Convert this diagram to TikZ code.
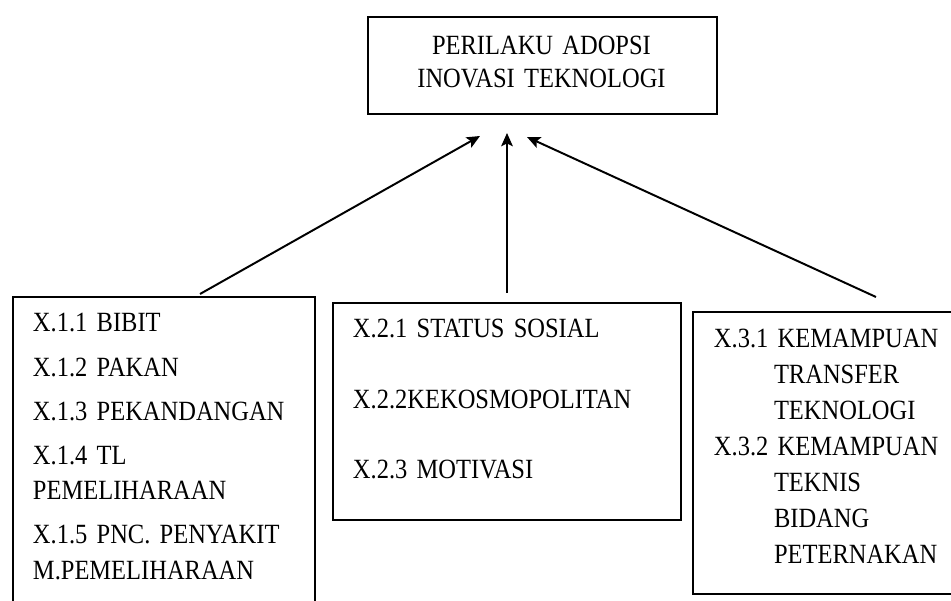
\documentclass[tikz,border=0pt]{standalone}
\usepackage{fontspec}
\setmainfont[FakeStretch=0.88,WordSpace=0.85]{Liberation Serif}
\usetikzlibrary{arrows.meta}

\begin{document}
\begin{tikzpicture}[>={Stealth[length=3.3mm,width=2.9mm,inset=0.7mm]},line width=1.4pt,
  kotak/.style={draw,rectangle,inner sep=0pt,anchor=north west},
  isi/.style={anchor=base west,inner sep=0pt,align=left,text width=#1,
    font=\fontsize{19.8}{25.6}\selectfont},
  isi/.default=6.5cm]
\useasboundingbox (0,0) rectangle (23.775,15);
\node[kotak,minimum width=8.725cm,minimum height=2.425cm] (puncak) at (9.175,14.6) {};
\node[isi=8cm,align=center,anchor=base] (judul) at (13.5375,13.625)
  {PERILAKU ADOPSI\\[-2.8pt]INOVASI TEKNOLOGI};
\node[kotak,minimum width=7.55cm,minimum height=7.8cm] (faktorA) at (0.3,7.6) {};
\node[isi] (isiA) at (0.8,6.7)
  {X.1.1 BIBIT\\[5.7pt]
   X.1.2 PAKAN\\[5.7pt]
   X.1.3 PEKANDANGAN\\[5.7pt]
   X.1.4 TL\\
   PEMELIHARAAN\\[5.7pt]
   X.1.5 PNC. PENYAKIT\\
   M.PEMELIHARAAN};
\node[kotak,minimum width=8.7cm,minimum height=5.425cm] (faktorB) at (8.3,7.45) {};
\node[isi=7.8cm] (isiB) at (8.8,6.55)
  {X.2.1 STATUS SOSIAL\\[24.2pt]
   X.2.2KEKOSMOPOLITAN\\[24.2pt]
   X.2.3 MOTIVASI};
\node[kotak,minimum width=6.7cm,minimum height=7.05cm] (faktorC) at (17.3,7.225) {};
\node[isi=6cm] (isiC) at (17.825,6.3)
  {X.3.1 KEMAMPUAN\\
   \hspace*{42.7pt}TRANSFER\\
   \hspace*{42.7pt}TEKNOLOGI\\
   X.3.2 KEMAMPUAN\\
   \hspace*{42.7pt}TEKNIS\\
   \hspace*{42.7pt}BIDANG\\
   \hspace*{42.7pt}PETERNAKAN};
\coordinate (pangkalA) at (5.0,7.65);
\coordinate (pangkalB) at (12.675,7.675);
\coordinate (pangkalC) at (21.9,7.575);
\coordinate (ujungA) at (12.0,11.6);
\coordinate (ujungB) at (12.675,11.675);
\coordinate (ujungC) at (13.175,11.575);
\draw[->] (pangkalA) -- (ujungA);
\draw[->] (pangkalB) -- (ujungB);
\draw[->] (pangkalC) -- (ujungC);
\end{tikzpicture}
\end{document}
